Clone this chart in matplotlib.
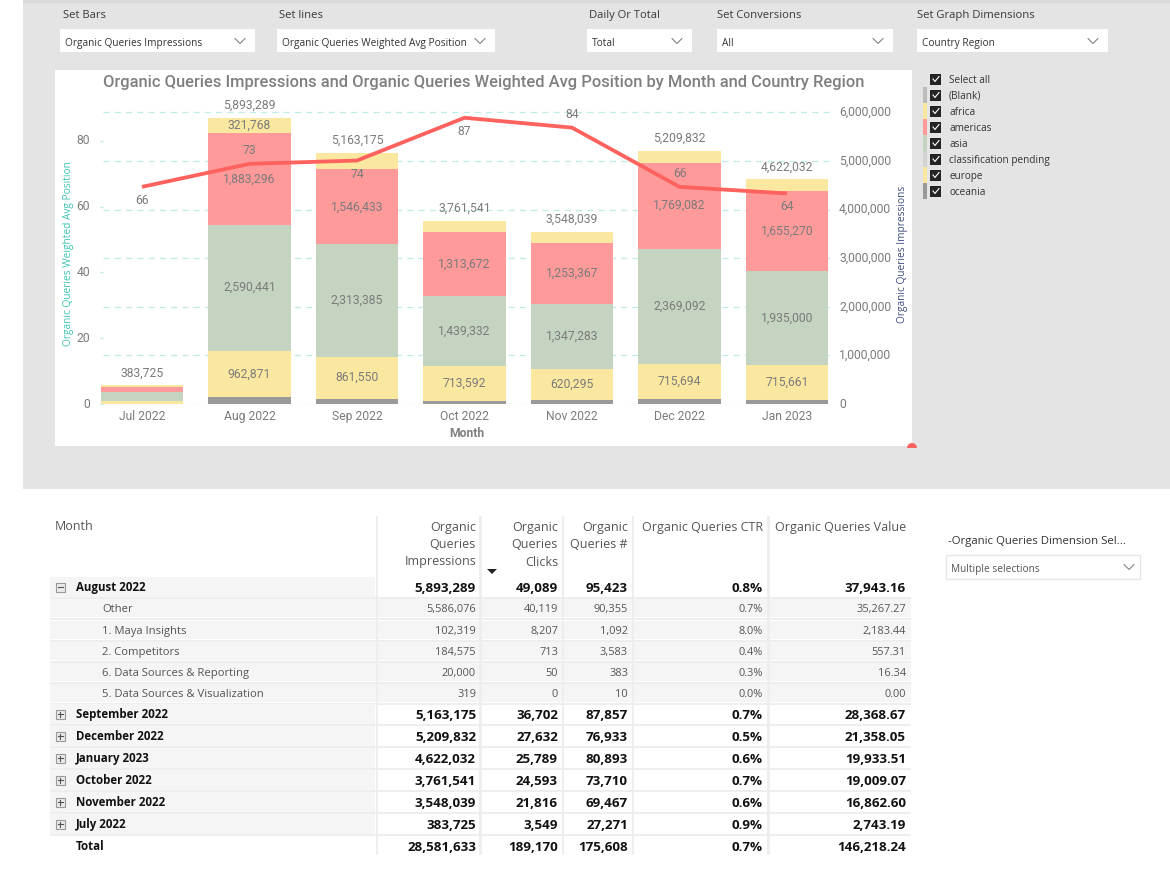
import matplotlib
matplotlib.use("Agg")
import matplotlib.pyplot as plt
from matplotlib.patches import Rectangle, Wedge
from matplotlib.transforms import Affine2D
import numpy as np

# chart data
months = ["Jul 2022", "Aug 2022", "Sep 2022", "Oct 2022", "Nov 2022", "Dec 2022", "Jan 2023"]
oceania = [10000, 134913, 110000, 70000, 90000, 110000, 85000]
europe = [50000, 962871, 861550, 713592, 620295, 715694, 715661]
asia = [185000, 2590441, 2313385, 1439332, 1347283, 2369092, 1935000]
americas = [110000, 1883296, 1546433, 1313672, 1253367, 1769082, 1655270]
africa = [28725, 321768, 331807, 224945, 237094, 245964, 231101]
totals = [383725, 5893289, 5163175, 3761541, 3548039, 5209832, 4622032]
avg_position = [66, 73, 74, 87, 84, 66, 64]
position_label_side = [-1, 1, -1, -1, 1, 1, -1]
position_ticks = [0, 20, 40, 60, 80]
impression_ticks = [0, 1000000, 2000000, 3000000, 4000000, 5000000, 6000000]

# slicers
slicer_titles = ["Set Bars", "Set lines", "Daily Or Total", "Set Conversions", "Set Graph Dimensions"]
slicer_values = ["Organic Queries Impressions", "Organic Queries Weighted Avg Position", "Total", "All", "Country Region"]
legend_names = ["Select all", "(Blank)", "africa", "americas", "asia", "classification pending", "europe", "oceania"]
legend_colors = [None, "#BDBDBD", "#FBE8A0", "#FE9A9A", "#C5D3C1", "#D3D3D3", "#FBE8A0", "#9A9A9A"]

# table
col_headers = [["Organic", "Queries", "Impressions"], ["Organic", "Queries", "Clicks"], ["Organic", "Queries #"],
               ["Organic Queries CTR"], ["Organic Queries Value"]]
row_names = ["August 2022", "Other", "1. Maya Insights", "2. Competitors", "6. Data Sources & Reporting",
             "5. Data Sources & Visualization", "September 2022", "December 2022", "January 2023",
             "October 2022", "November 2022", "July 2022", "Total"]
row_impressions = ["5,893,289", "5,586,076", "102,319", "184,575", "20,000", "319", "5,163,175", "5,209,832",
                   "4,622,032", "3,761,541", "3,548,039", "383,725", "28,581,633"]
row_clicks = ["49,089", "40,119", "8,207", "713", "50", "0", "36,702", "27,632", "25,789", "24,593", "21,816",
              "3,549", "189,170"]
row_queries = ["95,423", "90,355", "1,092", "3,583", "383", "10", "87,857", "76,933", "80,893", "73,710",
               "69,467", "27,271", "175,608"]
row_ctr = ["0.8%", "0.7%", "8.0%", "0.4%", "0.3%", "0.0%", "0.7%", "0.5%", "0.6%", "0.7%", "0.6%", "0.9%", "0.7%"]
row_value = ["37,943.16", "35,267.27", "2,183.44", "557.31", "16.34", "0.00", "28,368.67", "21,358.05",
             "19,933.51", "19,009.07", "16,862.60", "2,743.19", "146,218.24"]
child_rows = [1, 2, 3, 4, 5]

W, H = 1170, 882
UI_FONT = "Open Sans"
CHART_FONT = "Roboto"
LABEL_GREY = "#7B7B7B"
GRID = "#BFECE7"


def px(n):
    return n * 72.0 / 100.0


fig = plt.figure(figsize=(W / 100, H / 100), dpi=100, facecolor="white")

# page layer, pixel coordinates with the origin top left
bg = fig.add_axes([0, 0, 1, 1], zorder=0)
bg.set_xlim(0, W)
bg.set_ylim(H, 0)
bg.axis("off")


def box(x0, y0, x1, y1, color, **kw):
    bg.add_patch(Rectangle((x0, y0), x1 - x0, y1 - y0, facecolor=color, edgecolor=kw.pop("edge", "none"), linewidth=kw.pop("lw", 0), **kw))


def label(x, y, s, size=8.1, color="#333333", ha="left", weight="normal", font=UI_FONT):
    # y is the middle of the capitals, baseline keeps rows level whatever the letters
    bg.text(x, y + 0.36 * size * 100 / 72, s, fontsize=size, color=color, ha=ha, va="baseline", fontweight=weight, family=font)


def chevron(x, y, color="#605E5C"):
    bg.plot([x - 5, x, x + 5], [y - 2.5, y + 2.5, y - 2.5], color=color, lw=0.6)


box(23, 0, W, 489, "#E4E4E4")
box(23, 0, W, 3, "#DADADA")
box(55, 70, 912, 446, "white")
bg.add_patch(Wedge((912, 448), 5, 180, 360, facecolor="#FD625E", edgecolor="none"))

slicer_boxes = [(60, 255), (277, 495), (587, 692), (717, 893), (917, 1108)]
slicer_title_x = [63, 279, 589, 717, 917]
for (x0, x1), tx, title, value in zip(slicer_boxes, slicer_title_x, slicer_titles, slicer_values):
    box(x0, 29, x1, 52, "white")
    label(tx, 14, title, color="#3B3A39")
    label(x0 + 5, 42, value, size=7.3, color="#333333")
    chevron(x1 - 15, 41)

# legend slicer
for i, (name, color) in enumerate(zip(legend_names, legend_colors)):
    yc = 79 + 16 * i
    if color:
        box(923, yc - 8, 927, yc + 8, color)
    box(930, yc - 5.5, 941, yc + 5.5, "#252423")
    bg.plot([933, 935, 939], [yc, yc + 2.5, yc - 2.5], color="white", lw=0.8)
    label(949, yc, name, size=7.2, color="#333333")

# chart
left, right, top, bottom = 103, 830, 104, 404
step = 107.5
ax = fig.add_axes([left / W, 1 - bottom / H, (right - left) / W, (bottom - top) / H], zorder=2)
ax.patch.set_alpha(0)
ax.set_xlim((left - 142) / step, (right - 142) / step)
ax.set_ylim(0, (bottom - top) / 48.6 * 1e6)

ax2 = ax.twinx()
ax2.set_zorder(3)
ax2.patch.set_alpha(0)
ax2.set_ylim(0, (bottom - top) / 3.29)

x = np.arange(len(months))
ax.set_axisbelow(True)
ax.grid(axis="y", color=GRID, linestyle=(0, (5, 4)), linewidth=0.9)
ax.grid(axis="x", visible=False)
base = np.zeros(len(months))
for values, color in [(oceania, "#9A9A9A"), (europe, "#FBE8A0"), (asia, "#C5D3C1"), (americas, "#FE9A9A"), (africa, "#FBE8A0")]:
    ax.bar(x, values, 0.763, bottom=base, color=color, clip_on=False, zorder=2)
    if values is not oceania:
        for i, v in enumerate(values):
            if i > 0 and (values is not africa or i == 1):
                ax.text(i, base[i] + v / 2, f"{v:,}", ha="center", va="center", fontsize=8.7,
                        color=LABEL_GREY, family=CHART_FONT, zorder=3)
    base = base + np.array(values)

for i, t in enumerate(totals):
    ax.annotate(f"{t:,}", (i, t), xytext=(0, 9), textcoords="offset points", ha="center", va="center",
                fontsize=8.7, color=LABEL_GREY, family=CHART_FONT)

ax.yaxis.tick_right()
ax.set_yticks(impression_ticks)
ax.set_yticklabels([f"{v:,}" for v in impression_ticks], family=CHART_FONT, fontsize=8.7, color=LABEL_GREY)
ax.tick_params(axis="y", length=0, pad=px(9))
ax.set_xticks(x)
ax.set_xticklabels(months, family=CHART_FONT, fontsize=8.7, color=LABEL_GREY)
ax.tick_params(axis="x", length=0, pad=px(6))
ax.set_xlabel("Month", family=CHART_FONT, fontsize=8.7, fontweight="bold", color="#7F7F7F", labelpad=px(4))
ax.yaxis.set_label_position("right")
ax.set_ylabel("Organic Queries Impressions", family=UI_FONT, fontsize=7.3, color="#3D4C7E", rotation=90)
ax.yaxis.set_label_coords((897 - left) / (right - left), 0.5)
for s in ax.spines.values():
    s.set_visible(False)

ax2.plot(x, avg_position, color="#FD625E", lw=px(3.8), solid_capstyle="butt", zorder=4)
for i, (v, side) in enumerate(zip(avg_position, position_label_side)):
    ax2.annotate(str(v), (i, v), xytext=(0, px(13.5) * side), textcoords="offset points", ha="center", va="center",
                 fontsize=8.7, color=LABEL_GREY, family=CHART_FONT)
ax2.yaxis.tick_left()
ax2.set_yticks(position_ticks)
ax2.set_yticklabels([str(v) for v in position_ticks], family=CHART_FONT, fontsize=8.7, color=LABEL_GREY)
ax2.tick_params(axis="y", length=px(3), width=0.9, color=GRID, pad=px(10))
ax2.yaxis.set_label_position("left")
ax2.set_ylabel("Organic Queries Weighted Avg Position", family=UI_FONT, fontsize=7.3, color="#3CC4B4", rotation=90)
ax2.yaxis.set_label_coords((74 - left) / (right - left), 0.5)
for s in ax2.spines.values():
    s.set_visible(False)

# tick labels sit a little above their grid lines
for tick_label in ax.get_yticklabels() + ax2.get_yticklabels():
    tick_label.set_transform(tick_label.get_transform() + Affine2D().translate(0, 1.5))

label(483.5, 81, "Organic Queries Impressions and Organic Queries Weighted Avg Position by Month and Country Region",
      size=11.85, color="#7F7F7F", ha="center", weight="medium", font=CHART_FONT)

# table
row_y = [587, 608, 630, 651, 672, 693, 714, 736, 758, 780, 802, 824, 846]
col_right = [476, 558, 628, 763, 906]
col_seps = [377, 480.5, 563, 633, 768.5]
row_cols = [row_impressions, row_clicks, row_queries, row_ctr, row_value]

label(55, 526, "Month", color="#555555", size=9)
for xr, lines in zip(col_right, col_headers):
    for j, line in enumerate(lines):
        label(xr, 527 + 17 * j, line, color="#555555", size=9, ha="right")
bg.fill([487, 497, 492], [569, 569, 574], color="#222222", lw=0)

for i, yc in enumerate(row_y):
    is_child = i in child_rows
    is_total = row_names[i] == "Total"
    if is_child:
        box(50, yc - 9, 911, yc + 9, "#F5F5F5")
    elif not is_total:
        box(50, yc - 10, 375, yc + 9.5, "#F5F5F5")
    if not is_total:
        box(50, yc + 9.5, 911, yc + 12.2, "#EEEEEE")
    if is_child:
        label(102, yc, row_names[i], size=8.15, color="#555555")
    else:
        label(76, yc, row_names[i], size=8.3, color="#111111", weight="bold")
        if not is_total:
            box(55.5, yc - 4.5, 65, yc + 5, "#EBEBEB", edge="#999999", lw=0.8)
            bg.plot([57.5, 63], [yc + 0.3, yc + 0.3], color="#555555", lw=0.8)
            if i > 0:
                bg.plot([60.3, 60.3], [yc - 2.5, yc + 3], color="#555555", lw=0.8)
    for xr, col in zip(col_right, row_cols):
        if is_child:
            label(xr, yc, col[i], size=7.95, color="#555555", ha="right")
        else:
            label(xr, yc, col[i], size=9.6, color="#111111", ha="right", weight="bold")

for sx in col_seps:
    box(sx - 1.3, 516, sx + 1.3, 855, "#EEEEEE")

# dimension slicer
label(948, 540, "-Organic Queries Dimension Sel...", size=8.2, color="#333333")
box(945.5, 554.5, 1139.5, 578.5, "white", edge="#E6E6E6", lw=1)
label(951, 568, "Multiple selections", size=7.25, color="#555555")
chevron(1129, 567)

fig.savefig("out.png", dpi=100, facecolor="white")
